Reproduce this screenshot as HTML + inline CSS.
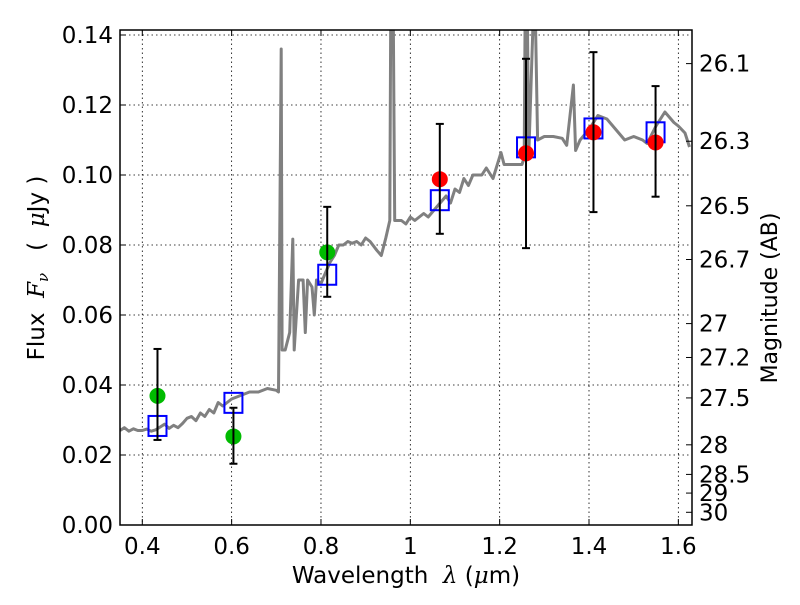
<!DOCTYPE html>
<html><head><meta charset="utf-8"><style>
html,body{margin:0;padding:0;background:#fff;}
svg text{font-family:"DejaVu Sans","Liberation Sans",sans-serif;fill:#000;white-space:pre;}
</style></head><body>
<svg id="chart" width="800" height="600" viewBox="0 0 800 600" xmlns="http://www.w3.org/2000/svg">
<rect width="800" height="600" fill="#fff"/>
<defs><clipPath id="plotclip"><rect x="120" y="30" width="572" height="495"/></clipPath></defs>
<g id="grid"></g>
<g id="spec" clip-path="url(#plotclip)"></g>
<g id="marks"></g>
<rect x="120" y="30" width="572" height="495" fill="none" stroke="#000" stroke-width="1.5"/>
<g id="axes"></g>
<text x="406" y="583" font-size="23" text-anchor="middle">Wavelength  <tspan font-style="italic" font-family="DejaVu Serif">λ</tspan> (<tspan font-style="italic" font-family="DejaVu Serif">μ</tspan>m)</text>
<text transform="translate(44,268) rotate(-90)" font-size="23" text-anchor="middle">Flux  <tspan font-style="italic" font-family="DejaVu Serif">F<tspan font-size="15" dy="4">ν</tspan></tspan><tspan dy="-4">   (  </tspan><tspan font-style="italic" font-family="DejaVu Serif">μ</tspan>Jy )</text>
<text transform="translate(777,298) rotate(-90)" font-size="22" text-anchor="middle">Magnitude (AB)</text>
</svg>
<script>
const xTicks=[0.4,0.6,0.8,1.0,1.2,1.4,1.6];
const xTickLabels=["0.4","0.6","0.8","1","1.2","1.4","1.6"];
const yTicks=[0,0.02,0.04,0.06,0.08,0.10,0.12,0.14];
const yTickLabels=["0.00","0.02","0.04","0.06","0.08","0.10","0.12","0.14"];
const magTicks=[26.1,26.3,26.5,26.7,27,27.2,27.5,28,28.5,29,30];
const magTickLabels=["26.1","26.3","26.5","26.7","27","27.2","27.5","28","28.5","29","30"];
const specWave=[0.35,0.36,0.37,0.38,0.39,0.40,0.41,0.42,0.43,0.44,0.45,0.46,0.47,0.48,0.49,0.50,0.51,0.52,0.53,0.54,0.55,0.56,0.57,0.58,0.60,0.62,0.64,0.66,0.68,0.70,0.705,0.711,0.713,0.72,0.73,0.737,0.74,0.75,0.76,0.765,0.77,0.78,0.785,0.79,0.80,0.81,0.82,0.83,0.84,0.85,0.86,0.87,0.88,0.89,0.90,0.91,0.925,0.935,0.945,0.954,0.956,0.962,0.965,0.98,0.99,1.0,1.01,1.03,1.04,1.06,1.08,1.09,1.10,1.11,1.12,1.13,1.14,1.16,1.17,1.185,1.203,1.21,1.25,1.255,1.257,1.262,1.265,1.275,1.28,1.285,1.30,1.32,1.34,1.35,1.365,1.37,1.38,1.40,1.42,1.44,1.46,1.48,1.50,1.52,1.53,1.55,1.57,1.59,1.60,1.615,1.625];
const specFlux=[0.027,0.0278,0.0268,0.0275,0.027,0.027,0.0274,0.0268,0.0272,0.028,0.0288,0.0276,0.0285,0.0278,0.029,0.0305,0.031,0.0298,0.032,0.031,0.033,0.032,0.035,0.034,0.036,0.037,0.038,0.038,0.039,0.0385,0.038,0.136,0.05,0.05,0.055,0.0817,0.05,0.07,0.07,0.055,0.07,0.068,0.06,0.07,0.069,0.072,0.075,0.077,0.080,0.080,0.081,0.0805,0.081,0.080,0.082,0.081,0.0785,0.077,0.082,0.087,0.145,0.145,0.087,0.087,0.086,0.088,0.087,0.089,0.088,0.091,0.094,0.092,0.096,0.095,0.099,0.097,0.100,0.100,0.102,0.099,0.1064,0.103,0.103,0.105,0.145,0.145,0.105,0.145,0.145,0.11,0.111,0.111,0.1105,0.1085,0.1257,0.107,0.110,0.113,0.117,0.116,0.113,0.110,0.111,0.110,0.109,0.114,0.118,0.115,0.114,0.112,0.108];
const greenWave=[0.434,0.604,0.814];
const greenFlux=[0.0369,0.0253,0.0779];
const greenErrHi=[0.0503,0.0335,0.0909];
const greenErrLo=[0.0243,0.0175,0.0652];
const redWave=[1.066,1.259,1.410,1.549];
const redFlux=[0.0988,0.1062,0.1122,0.1093];
const redErrHi=[0.1146,0.1332,0.1351,0.1254];
const redErrLo=[0.0832,0.0791,0.0894,0.0938];
const modelWave=[0.434,0.604,0.814,1.066,1.259,1.410,1.549];
const modelFlux=[0.0283,0.0349,0.0715,0.0928,0.1079,0.1133,0.1122];

const NS="http://www.w3.org/2000/svg";
function X(w){return 142.3+(w-0.4)*446.7;}
function Y(f){return 525-f*3500;}
function magToFlux(m){return Math.pow(10,(23.9-m)/2.5);}
function mk(tag,attrs,parent){const e=document.createElementNS(NS,tag);for(const k in attrs)e.setAttribute(k,attrs[k]);parent.appendChild(e);return e;}
const grid=document.getElementById('grid'),axes=document.getElementById('axes'),spec=document.getElementById('spec'),marks=document.getElementById('marks');
xTicks.forEach((t,i)=>{const x=X(t);
 let g=mk('line',{x1:x,x2:x,y1:30,y2:525,stroke:'#000','stroke-width':0.8,'stroke-dasharray':'1.5,3'},grid);
 
 let a=mk('line',{x1:x,x2:x,y1:525,y2:519,stroke:'#000','stroke-width':1},axes);
 
 let b=mk('line',{x1:x,x2:x,y1:30,y2:36,stroke:'#000','stroke-width':1},axes);
 
 let tx=mk('text',{x:x,y:554,'font-size':23,'text-anchor':'middle'},axes);tx.textContent=xTickLabels[i];
 });
yTicks.forEach((t,i)=>{const y=Y(t);
 if(t>0&&t<0.141){let g=mk('line',{x1:120,x2:692,y1:y,y2:y,stroke:'#000','stroke-width':0.8,'stroke-dasharray':'1.5,3'},grid);
 }
 let a=mk('line',{x1:120,x2:126,y1:y,y2:y,stroke:'#000','stroke-width':1},axes);
 
 let tx=mk('text',{x:113,y:y+8,'font-size':23,'text-anchor':'end'},axes);tx.textContent=yTickLabels[i];
 });
magTicks.forEach((m,i)=>{const y=Y(magToFlux(m));
 let a=mk('line',{x1:692,x2:686,y1:y,y2:y,stroke:'#000','stroke-width':1},axes);
 
 let tx=mk('text',{x:699,y:y+8,'font-size':23},axes);tx.textContent=magTickLabels[i];
 });
let pts=specWave.map((w,i)=>X(w).toFixed(1)+','+Y(specFlux[i]).toFixed(1)).join(' ');
let pl=mk('polyline',{points:pts,fill:'none',stroke:'#808080','stroke-width':3,'stroke-linejoin':'round'},spec);

function errbar(w,hi,lo){const x=X(w);
 let e=mk('g',{},marks);
 
 mk('line',{x1:x,x2:x,y1:Y(hi),y2:Y(lo),stroke:'#000','stroke-width':2},e);
 mk('line',{x1:x-4,x2:x+4,y1:Y(hi),y2:Y(hi),stroke:'#000','stroke-width':2},e);
 mk('line',{x1:x-4,x2:x+4,y1:Y(lo),y2:Y(lo),stroke:'#000','stroke-width':2},e);}
modelWave.forEach((w,i)=>{let r=mk('rect',{x:X(w)-9,y:Y(modelFlux[i])-10,width:18,height:20,fill:'none',stroke:'#0000ff','stroke-width':2},marks);
 });
greenWave.forEach((w,i)=>{let c=mk('circle',{cx:X(w),cy:Y(greenFlux[i]),r:8,fill:'#00bb00'},marks);
 
 errbar(w,greenErrHi[i],greenErrLo[i]);});
redWave.forEach((w,i)=>{let c=mk('circle',{cx:X(w),cy:Y(redFlux[i]),r:8,fill:'#ff0000'},marks);
 
 errbar(w,redErrHi[i],redErrLo[i]);});
</script>
</body></html>
